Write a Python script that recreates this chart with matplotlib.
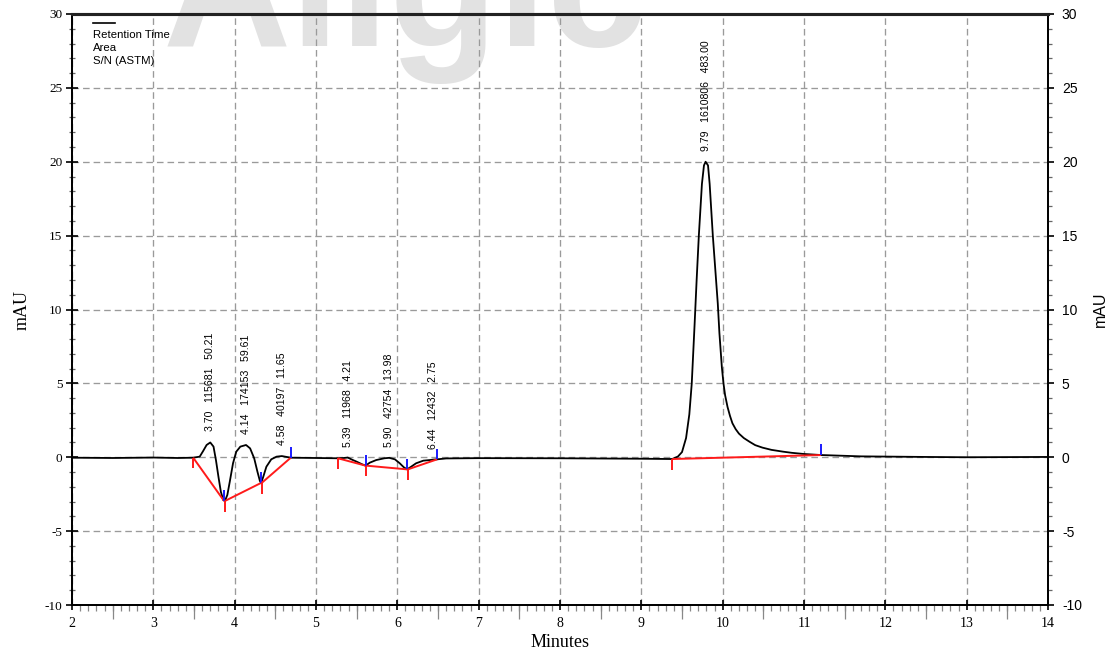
import matplotlib
matplotlib.use("Agg")
import matplotlib.pyplot as plt
import numpy as np
from matplotlib.ticker import MultipleLocator, NullFormatter

# ---- data ----
time_min = [2.0, 2.5, 3.0, 3.3, 3.49, 3.57, 3.61, 3.655, 3.70, 3.74, 3.77, 3.80, 3.83,
            3.86, 3.88, 3.91, 3.94, 3.98, 4.02, 4.07, 4.14, 4.19, 4.24, 4.28, 4.31,
            4.325, 4.35, 4.39, 4.45, 4.515, 4.58, 4.69, 5.0, 5.27, 5.34, 5.39, 5.45,
            5.50, 5.56, 5.61, 5.66, 5.74, 5.84, 5.90, 5.97, 6.03, 6.08, 6.12, 6.17,
            6.23, 6.32, 6.40, 6.44, 6.49, 6.6, 7.0, 8.0, 9.0, 9.38, 9.45, 9.50, 9.55,
            9.59, 9.62, 9.655, 9.68, 9.707, 9.745, 9.77, 9.79, 9.82, 9.84, 9.879, 9.94,
            9.96, 9.99, 10.01, 10.03, 10.06, 10.09, 10.12, 10.16, 10.20, 10.26, 10.33,
            10.40, 10.49, 10.60, 10.74, 10.85, 11.0, 11.21, 11.7, 12.5, 13.0, 14.0]
signal_mau = [-0.03, -0.05, -0.02, -0.05, -0.03, 0.04, 0.4, 0.83, 1.0, 0.72, -0.2, -1.3,
              -2.33, -2.9, -2.96, -2.55, -1.65, -0.4, 0.38, 0.72, 0.83, 0.6, -0.07, -0.98,
              -1.6, -1.75, -1.35, -0.64, -0.14, 0.04, 0.08, -0.03, -0.05, -0.07, -0.05,
              -0.02, -0.18, -0.3, -0.46, -0.57, -0.37, -0.19, -0.07, -0.04, -0.14, -0.41,
              -0.68, -0.82, -0.64, -0.41, -0.23, -0.19, -0.16, -0.14, -0.08, -0.06, -0.07,
              -0.1, -0.12, 0.05, 0.35, 1.3, 2.9, 5.0, 9.0, 12.0, 15.0, 18.5, 19.75, 20.0,
              19.75, 18.5, 15.0, 10.4, 8.4, 6.1, 5.0, 4.2, 3.4, 2.8, 2.3, 1.9, 1.6, 1.3,
              1.05, 0.82, 0.65, 0.5, 0.38, 0.3, 0.22, 0.15, 0.06, 0.02, 0.0, 0.02]

peak_rt = [3.70, 4.14, 4.58, 5.39, 5.90, 6.44, 9.79]
peak_area = [115681, 174153, 40197, 11968, 42754, 12432, 1610806]
peak_sn = ["50.21", "59.61", "11.65", "4.21", "13.98", "2.75", "483.00"]

# integration baselines: start (time, mAU) -> end (time, mAU)
base_start_t = [3.49, 3.88, 4.33, 5.27, 5.62, 6.13, 9.38]
base_start_y = [-0.03, -2.96, -1.75, -0.07, -0.57, -0.82, -0.12]
base_end_t = [3.87, 4.32, 4.69, 5.61, 6.12, 6.49, 11.21]
base_end_y = [-2.96, -1.75, -0.03, -0.57, -0.82, -0.14, 0.15]

legend_lines = ["Retention Time", "Area", "S/N (ASTM)"]

# ---- figure ----
plt.rcParams["font.family"] = ["Liberation Serif", "DejaVu Serif"]
plt.rcParams["axes.unicode_minus"] = False
W, H = 1115, 656
fig = plt.figure(figsize=(W / 100, H / 100), dpi=100)
ax = fig.add_axes([72 / W, 51 / H, 976 / W, 591 / H])
ax.patch.set_alpha(0)

# watermark (partly outside the top edge, as in the reference)
fig.text(163 / W, 1 - 46 / H, "Allgic", fontsize=128, fontweight="bold",
         family="Liberation Sans", color="#e2e2e2", ha="left", va="baseline", zorder=-5)

ax.set_xlim(2, 14)
ax.set_ylim(-10, 30)
ax.grid(True, which="major", color="#9a9a9a", linestyle=(0, (5, 3)), linewidth=0.95)
ax.set_axisbelow(True)

ax.plot(time_min, signal_mau, color="black", lw=1.3, zorder=3)

for t0, y0, t1, y1 in zip(base_start_t, base_start_y, base_end_t, base_end_y):
    ax.plot([t0, t1], [y0, y1], color="#ff1a1a", lw=1.4, zorder=4, solid_capstyle="butt")
    ax.vlines(t0, y0 - 0.72, y0, color="#ff1a1a", lw=1.4, zorder=4)
    ax.vlines(t1, y1, y1 + 0.72, color="#1a1aff", lw=1.4, zorder=4)

for rt, a, s in zip(peak_rt, peak_area, peak_sn):
    y = np.interp(rt, time_min, signal_mau)
    ax.annotate(f"{rt:.2f}   {a}   {s}", xy=(rt, y), xytext=(0, 11),
                textcoords="offset pixels", rotation=90, ha="center", va="bottom",
                fontsize=7.6, family="Liberation Sans", zorder=5)

# legend-like header
ax.plot([0.0215, 0.044], [0.985, 0.985], transform=ax.transAxes, color="black", lw=1.2)
for i, txt in enumerate(legend_lines):
    ax.text(21 / 976, 1 - (21 + 13 * i) / 591, txt, transform=ax.transAxes,
            fontsize=8.2, family="Liberation Sans", va="center", ha="left")

# ticks
ax.xaxis.set_major_locator(MultipleLocator(1))
ax.xaxis.set_minor_locator(MultipleLocator(0.1))
ax.yaxis.set_major_locator(MultipleLocator(5))
ax.yaxis.set_minor_locator(MultipleLocator(1))
ax.tick_params(axis="x", which="major", direction="inout", length=7, width=1.2,
               labelsize=10, pad=5)
ax.tick_params(axis="x", which="minor", direction="out", length=4, width=0.9, color="#888888")
ax.tick_params(axis="y", which="major", direction="inout", length=8, width=1.2,
               labelsize=9.5, pad=3)
ax.tick_params(axis="y", which="minor", direction="inout", length=5, width=0.9, color="#666666")

half = ax.secondary_xaxis("bottom")
half.set_xticks(np.arange(2.5, 14, 1.0))
half.xaxis.set_major_formatter(NullFormatter())
half.tick_params(direction="out", length=10, width=0.9, color="#888888")
half.spines["bottom"].set_visible(False)

ax2 = ax.twinx()
ax2.set_ylim(-10, 30)
ax2.yaxis.set_major_locator(MultipleLocator(5))
ax2.yaxis.set_minor_locator(MultipleLocator(1))
ax2.tick_params(axis="y", which="major", direction="out", length=4, width=1.2,
                labelsize=10, pad=6)
ax2.tick_params(axis="y", which="minor", direction="out", length=3, width=0.9, color="#666666")
for lbl in ax2.get_yticklabels():
    lbl.set_family("Liberation Sans")

for a_ in (ax, ax2):
    for side in ("left", "bottom", "right"):
        a_.spines[side].set_linewidth(1.3)
    a_.spines["top"].set_linewidth(2.2)
    a_.spines["top"].set_color("#222222")

ax.set_xlabel("Minutes", fontsize=13, labelpad=3)
ax.set_ylabel("mAU", fontsize=13, labelpad=10)
ax2.set_ylabel("mAU", fontsize=11.5, family="Liberation Sans", labelpad=8)

fig.savefig("out.png", dpi=100)
